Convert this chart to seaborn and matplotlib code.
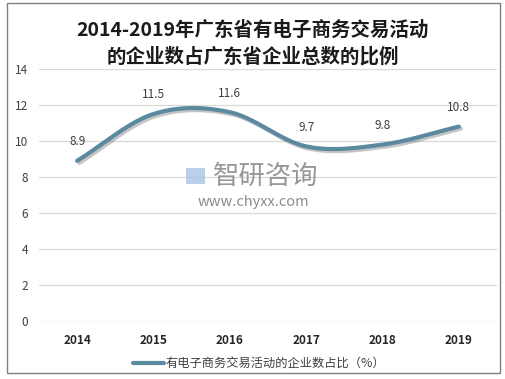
import numpy as np
import pandas as pd
import matplotlib
matplotlib.use("Agg")
import matplotlib.pyplot as plt
import matplotlib.patheffects as pe
from matplotlib.patches import Rectangle
import seaborn as sns

# 数据
years = ["2014", "2015", "2016", "2017", "2018", "2019"]
ratio = [8.9, 11.5, 11.6, 9.7, 9.8, 10.8]
series_name = "有电子商务交易活动的企业数占比（%）"
title_lines = ["2014-2019年广东省有电子商务交易活动", "的企业数占广东省企业总数的比例"]

sns.set_theme(style="whitegrid")
plt.rcParams['font.family'] = ['Noto Sans CJK SC', 'DejaVu Sans']

line_color = "#5B8AA0"


def smooth(xs, ys, n=40):
    # Catmull-Rom 平滑（类似 Excel 平滑线）
    xs = np.asarray(xs, float)
    ys = np.asarray(ys, float)
    px = np.concatenate([[2 * xs[0] - xs[1]], xs, [2 * xs[-1] - xs[-2]]])
    py = np.concatenate([[2 * ys[0] - ys[1]], ys, [2 * ys[-1] - ys[-2]]])
    out_x, out_y = [], []
    for i in range(1, len(px) - 2):
        t = np.linspace(0, 1, n)
        for arr, out in ((px, out_x), (py, out_y)):
            p0, p1, p2, p3 = arr[i - 1], arr[i], arr[i + 1], arr[i + 2]
            v = 0.5 * (2 * p1 + (-p0 + p2) * t + (2 * p0 - 5 * p1 + 4 * p2 - p3) * t ** 2
                       + (-p0 + 3 * p1 - 3 * p2 + p3) * t ** 3)
            out.extend(v)
    return np.array(out_x), np.array(out_y)


pos = np.arange(len(years))
sx, sy = smooth(pos, ratio)
df = pd.DataFrame({"x": sx, "y": sy})

fig = plt.figure(figsize=(5.06, 3.79), dpi=100)
ax = fig.add_axes([39 / 506, 1 - 321 / 379, 458 / 506, 252 / 379])

sns.lineplot(data=df, x="x", y="y", ax=ax, color=line_color, linewidth=3,
             sort=False, legend=False,
             path_effects=[pe.SimpleLineShadow(offset=(1.5, -1.5), alpha=0.25), pe.Normal()])

for i, v in enumerate(ratio):
    ax.annotate(f"{v}", (pos[i], v), xytext=(0, 9), textcoords="offset points",
                ha="center", va="bottom", fontsize=8.5, color="#404040")

ax.set_xlim(-0.5, len(years) - 0.5)
ax.set_ylim(0, 14)
ax.set_yticks(range(0, 15, 2))
ax.set_xticks(pos)
ax.set_xticklabels(years, fontweight="bold")
ax.tick_params(axis="x", labelsize=8.5, colors="#262626", pad=9, length=0)
ax.tick_params(axis="y", labelsize=8.5, colors="#404040", pad=8, length=0)
ax.set_xlabel("")
ax.set_ylabel("")
ax.grid(axis="x", visible=False)
ax.grid(axis="y", color="#D9D9D9", linewidth=0.9)
for s in ax.spines.values():
    s.set_visible(False)
ax.set_facecolor("white")

# 图例
ax.plot([], [], color=line_color, linewidth=3, label=series_name)
ax.legend(loc="upper center", bbox_to_anchor=(0.48, -0.1), frameon=False,
          fontsize=8.8, handlelength=2.6, handletextpad=0.1, labelcolor="#404040")

# 标题
fig.text(0.5, 1 - 30 / 379, title_lines[0], fontsize=14, fontweight="bold",
         color="#1a1a1a", ha="center", va="center")
fig.text(0.5, 1 - 57 / 379, title_lines[1], fontsize=14, fontweight="bold",
         color="#1a1a1a", ha="center", va="center")

# 水印
fig.text(266 / 506, 1 - 176 / 379, "智研咨询", fontsize=19, color="#8C8C8C",
         ha="center", va="center", alpha=0.9)
fig.text(253 / 506, 1 - 202 / 379, "www.chyxx.com", fontsize=10.5, color="#8C8C8C",
         ha="center", va="center")
fig.patches.append(Rectangle((186 / 506, 1 - 184 / 379), 19 / 506, 16 / 379,
                             transform=fig.transFigure, facecolor="#A9C4E4",
                             edgecolor="none", alpha=0.8))

# 外框
fig.patches.append(Rectangle((7 / 506, 1 - 373 / 379), 493 / 506, 370 / 379,
                             transform=fig.transFigure, fill=False, edgecolor="#808080", linewidth=1))

fig.savefig("out.png", dpi=100)
